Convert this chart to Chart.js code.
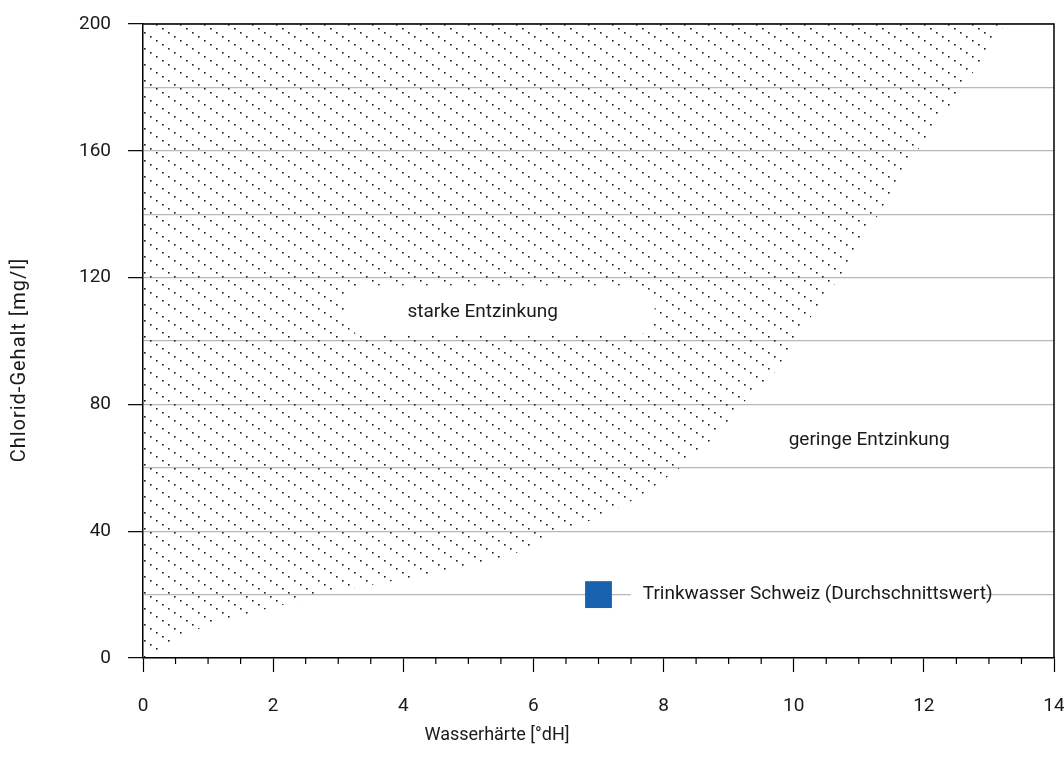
<!DOCTYPE html>
<html>
<head>
<meta charset="utf-8">
<script src="https://cdn.jsdelivr.net/npm/chart.js@4.4.1/dist/chart.umd.min.js"></script>
<style>
  html, body { margin: 0; background: #fff; overflow: hidden; }
  canvas { display: block; }
</style>
</head>
<body>
<!-- etwas breiter als das Fenster: Chart.js reserviert rechts Platz für die Beschriftung "14" -->
<canvas id="chart" width="1073" height="771"></canvas>
<script>
// --- Data ---
// Grenzkurve zwischen starker und geringer Entzinkung (Wasserhärte / Chlorid)
const boundaryHardness = [0, 1.0, 2.0, 2.66, 3.5, 4.4, 5.2, 6.0, 6.4, 7.1, 7.7, 8.25, 8.9, 9.2, 9.7, 10.0, 10.7, 11.3, 11.9, 12.6, 13.25];
const boundaryChloride = [0, 10.5, 16, 19.5, 23, 26.5, 30, 35, 40, 45, 52, 60, 72, 80, 90, 100, 120, 140, 160, 180, 200];

// Trinkwasser Schweiz (Durchschnittswert)
const sampleHardness = [7];
const sampleChloride = [20];

const xRange = [0, 14];
const yRange = [0, 200];

const labelStrong = 'starke Entzinkung';
const labelWeak = 'geringe Entzinkung';
const labelSample = 'Trinkwasser Schweiz (Durchschnittswert)';
const xTitle = 'Wasserhärte [°dH]';
const yTitle = 'Chlorid-Gehalt [mg/l]';

// --- Styles ---
const FONT = "Roboto, 'Noto Sans', sans-serif";
const TEXT_COLOR = '#1a1a1a';
const GRID_COLOR = '#b8b8b8';
const SAMPLE_COLOR = '#1762ae';

function makeHatch() {
    // punktierte Schräglinien, Steigung 2/3, Abstand 16 px
    const tile = document.createElement('canvas');
    tile.width = 24;
    tile.height = 16;
    const g = tile.getContext('2d');
    g.fillStyle = '#1e1e1e';
    [[0, 0], [6, 4], [12, 8], [18, 12]].forEach(([x, y]) => g.fillRect(x, y, 1.6, 1.6));
    return g.createPattern(tile, 'repeat');
}

// --- Plugin: Beschriftungen, Rahmen, Nebenstriche ---
const decorations = {
    id: 'decorations',
    afterDatasetsDraw(chart) {
        const { ctx, scales: { x, y } } = chart;
        ctx.save();
        ctx.font = `19px ${FONT}`;
        ctx.textBaseline = 'middle';

        // starke Entzinkung: weisses Feld über der Schraffur
        const sx = x.getPixelForValue(5.22);
        const sy = y.getPixelForValue(109);
        ctx.fillStyle = '#fff';
        ctx.beginPath();
        ctx.roundRect(sx - 138, sy - 27, 310, 50, 20);
        ctx.fill();
        ctx.fillStyle = TEXT_COLOR;
        ctx.textAlign = 'center';
        ctx.fillText(labelStrong, sx, sy);

        // geringe Entzinkung
        ctx.fillText(labelWeak, x.getPixelForValue(11.16), y.getPixelForValue(68.8));

        // Trinkwasser Schweiz
        const tx = x.getPixelForValue(7.68);
        const ty = y.getPixelForValue(20);
        const w = ctx.measureText(labelSample).width;
        ctx.fillStyle = '#fff';
        ctx.fillRect(tx - 12, ty - 12, w + 2, 24);
        ctx.fillStyle = TEXT_COLOR;
        ctx.textAlign = 'left';
        ctx.fillText(labelSample, tx, ty);
        ctx.restore();
    },
    afterDraw(chart) {
        const { ctx, chartArea: a, scales: { x } } = chart;
        ctx.save();
        ctx.strokeStyle = '#000';
        ctx.lineWidth = 1.5;
        ctx.beginPath();
        ctx.moveTo(a.left, a.top);
        ctx.lineTo(a.right, a.top);
        ctx.lineTo(a.right, a.bottom);
        ctx.stroke();

        // Nebenstriche auf der x-Achse
        ctx.lineWidth = 1.2;
        x.ticks.forEach(t => {
            if (t.value % 2 === 0) return;
            const px = x.getPixelForValue(t.value);
            ctx.beginPath();
            ctx.moveTo(px, a.bottom);
            ctx.lineTo(px, a.bottom + 6);
            ctx.stroke();
        });

        // Achsentitel
        ctx.fillStyle = TEXT_COLOR;
        ctx.font = `18px ${FONT}`;
        ctx.textAlign = 'center';
        ctx.textBaseline = 'middle';
        ctx.fillText(xTitle, 497, 735);
        ctx.translate(20, 360);
        ctx.rotate(-Math.PI / 2);
        ctx.font = `20px ${FONT}`;
        ctx.letterSpacing = '1px';
        ctx.fillText(yTitle, 0, 0);
        ctx.restore();
    }
};

const hatch = makeHatch();

new Chart(document.getElementById('chart'), {
    type: 'scatter',
    data: {
        datasets: [
            {
                label: 'Grenze',
                type: 'line',
                data: boundaryHardness.map((h, i) => ({ x: h, y: boundaryChloride[i] })),
                fill: 'end',
                backgroundColor: hatch,
                borderWidth: 0,
                pointRadius: 0,
                tension: 0.2
            },
            {
                label: labelSample,
                data: sampleHardness.map((h, i) => ({ x: h, y: sampleChloride[i] })),
                pointStyle: 'rect',
                pointRadius: 19,
                backgroundColor: SAMPLE_COLOR,
                borderWidth: 0
            }
        ]
    },
    options: {
        responsive: false,
        animation: false,
        layout: { padding: { top: 24, right: 10, left: 0, bottom: 0 } },
        plugins: { legend: { display: false }, tooltip: { enabled: false } },
        scales: {
            x: {
                type: 'linear',
                min: xRange[0], max: xRange[1],
                afterFit: s => { s.height = 113; s.paddingLeft = 0; s.paddingRight = 0; },
                border: { color: '#000', width: 1.5 },
                grid: {
                    drawOnChartArea: false,
                    tickLength: 14,
                    tickWidth: 1.2,
                    tickColor: c => (c.tick && c.tick.value % 2 === 0) ? '#000' : 'rgba(0,0,0,0)'
                },
                ticks: {
                    stepSize: 0.5,
                    autoSkip: false,
                    maxRotation: 0,
                    padding: 23,
                    color: TEXT_COLOR,
                    font: { family: FONT, size: 19 },
                    callback: v => v % 2 === 0 ? v : ''
                }
            },
            y: {
                type: 'linear',
                min: yRange[0], max: yRange[1],
                afterFit: s => { s.width = 143; s.paddingTop = 0; s.paddingBottom = 0; },
                border: { color: '#000', width: 1.5 },
                grid: {
                    color: GRID_COLOR,
                    lineWidth: 1.3,
                    tickLength: 15,
                    tickWidth: 1.2,
                    tickColor: c => (c.tick && c.tick.value % 40 === 0) ? '#000' : 'rgba(0,0,0,0)'
                },
                ticks: {
                    stepSize: 20,
                    padding: 17,
                    color: TEXT_COLOR,
                    font: { family: FONT, size: 19 },
                    callback: v => v % 40 === 0 ? v : ''
                }
            }
        }
    },
    plugins: [decorations]
});
</script>
</body>
</html>
